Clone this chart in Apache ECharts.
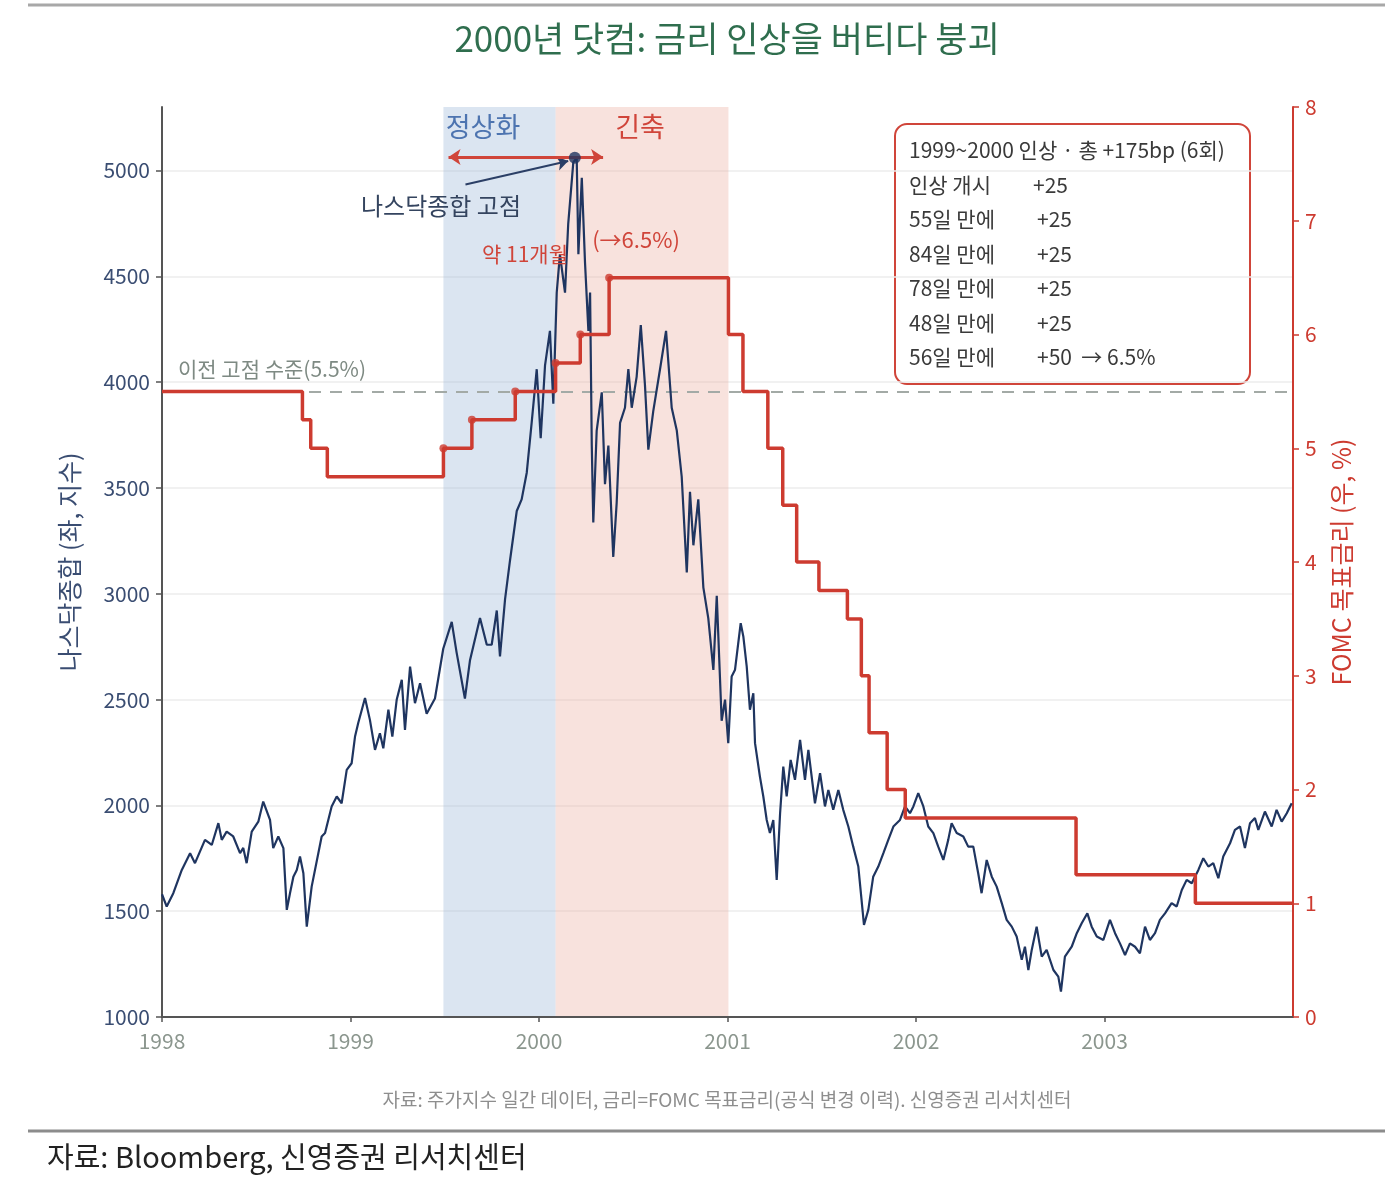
<!DOCTYPE html>
<html>
<head>
<meta charset="utf-8">
<script src="https://cdn.jsdelivr.net/npm/echarts@6.0.0/dist/echarts.min.js"></script>
<style>
  html, body { margin: 0; padding: 0; background: #fff; }
  #chart { width: 1399px; height: 1182px; }
</style>
</head>
<body>
<div id="chart"></div>
<script>
// Nasdaq composite, [decimal year, index level]
const nasdaq1998 = [[1998.000,1580],[1998.025,1522],[1998.060,1585],[1998.105,1695],[1998.149,1774],[1998.175,1727],[1998.228,1837],[1998.264,1813],[1998.299,1916],[1998.317,1837],[1998.343,1876],[1998.378,1853],[1998.414,1774],[1998.431,1799],[1998.449,1727],[1998.476,1876],[1998.511,1923],[1998.537,2018],[1998.573,1931],[1998.590,1798],[1998.617,1853],[1998.644,1798],[1998.662,1506],[1998.679,1585],[1998.697,1663],[1998.715,1695],[1998.732,1758],[1998.750,1679],[1998.768,1427],[1998.794,1616],[1998.847,1853],[1998.865,1869],[1998.900,1995],[1998.927,2042],[1998.953,2010],[1998.980,2168]];
const nasdaq1999 = [[1999.006,2199],[1999.024,2325],[1999.041,2389],[1999.077,2507],[1999.103,2404],[1999.130,2262],[1999.156,2341],[1999.174,2270],[1999.201,2452],[1999.222,2325],[1999.245,2499],[1999.272,2593],[1999.289,2357],[1999.316,2656],[1999.342,2483],[1999.369,2577],[1999.404,2433],[1999.448,2505],[1999.492,2740],[1999.537,2867],[1999.563,2722],[1999.607,2505],[1999.634,2686],[1999.687,2885],[1999.723,2759],[1999.749,2759],[1999.776,2921],[1999.793,2704],[1999.820,2975],[1999.846,3156],[1999.882,3391],[1999.908,3446],[1999.935,3572],[1999.961,3807],[1999.988,4061]];
const nasdaq2000 = [[2000.009,3735],[2000.032,4079],[2000.058,4242],[2000.076,3898],[2000.094,4423],[2000.111,4604],[2000.138,4423],[2000.155,4748],[2000.182,5038],[2000.200,5060],[2000.209,4604],[2000.227,4966],[2000.244,4567],[2000.262,4242],[2000.271,4423],[2000.280,3700],[2000.288,3337],[2000.306,3771],[2000.333,3952],[2000.350,3518],[2000.368,3700],[2000.394,3174],[2000.412,3428],[2000.430,3807],[2000.456,3879],[2000.474,4061],[2000.492,3879],[2000.518,4025],[2000.540,4269],[2000.562,3988],[2000.580,3681],[2000.606,3862],[2000.642,4061],[2000.674,4242],[2000.704,3879],[2000.731,3771],[2000.757,3554],[2000.784,3101],[2000.801,3482],[2000.819,3229],[2000.845,3446],[2000.872,3029],[2000.898,2885],[2000.925,2640],[2000.943,2990],[2000.969,2400],[2000.987,2500]];
const nasdaq2001 = [[2001.004,2294],[2001.022,2609],[2001.040,2641],[2001.057,2767],[2001.070,2861],[2001.084,2798],[2001.102,2656],[2001.119,2452],[2001.137,2530],[2001.146,2294],[2001.172,2136],[2001.190,2042],[2001.208,1931],[2001.225,1869],[2001.243,1931],[2001.261,1648],[2001.279,1963],[2001.296,2183],[2001.314,2042],[2001.335,2215],[2001.358,2121],[2001.385,2310],[2001.411,2121],[2001.429,2262],[2001.464,2010],[2001.491,2152],[2001.517,1995],[2001.535,2073],[2001.561,1979],[2001.588,2073],[2001.614,1979],[2001.641,1900],[2001.667,1805],[2001.694,1711],[2001.724,1435],[2001.747,1506],[2001.773,1663],[2001.800,1711],[2001.827,1774],[2001.853,1837],[2001.880,1900],[2001.915,1931],[2001.942,1995],[2001.968,1963],[2001.986,1995]];
const nasdaq2002 = [[2002.012,2058],[2002.039,1995],[2002.065,1900],[2002.092,1869],[2002.118,1805],[2002.145,1742],[2002.171,1837],[2002.189,1916],[2002.216,1869],[2002.251,1853],[2002.277,1805],[2002.304,1805],[2002.330,1679],[2002.348,1585],[2002.375,1742],[2002.402,1663],[2002.428,1616],[2002.455,1538],[2002.481,1459],[2002.508,1427],[2002.534,1380],[2002.561,1270],[2002.578,1332],[2002.596,1222],[2002.614,1317],[2002.640,1427],[2002.667,1285],[2002.693,1317],[2002.729,1222],[2002.755,1191],[2002.769,1120],[2002.790,1285],[2002.826,1332],[2002.853,1396],[2002.879,1443],[2002.909,1490],[2002.932,1427],[2002.959,1380],[2002.994,1364]];
const nasdaq2003 = [[2003.029,1459],[2003.056,1396],[2003.082,1348],[2003.109,1293],[2003.135,1348],[2003.162,1332],[2003.188,1301],[2003.215,1427],[2003.241,1364],[2003.268,1396],[2003.294,1459],[2003.321,1490],[2003.356,1538],[2003.383,1522],[2003.410,1600],[2003.436,1648],[2003.463,1632],[2003.498,1695],[2003.524,1750],[2003.551,1711],[2003.577,1727],[2003.604,1656],[2003.630,1758],[2003.666,1821],[2003.692,1884],[2003.719,1900],[2003.745,1798],[2003.772,1916],[2003.798,1940],[2003.816,1884],[2003.851,1971],[2003.887,1900],[2003.913,1979],[2003.940,1923],[2003.967,1963],[2003.993,2010]];

// FOMC target rate change dates (decimal year) and new levels
const rateDates  = [1998.000, 1998.745, 1998.789, 1998.877, 1999.493, 1999.644, 1999.874, 2000.088, 2000.219, 2000.372, 2001.005, 2001.082, 2001.214, 2001.293, 2001.367, 2001.485, 2001.636, 2001.710, 2001.751, 2001.847, 2001.943, 2002.849, 2003.482, 2004.000];
const rateValues = [5.5, 5.25, 5.0, 4.75, 5.0, 5.25, 5.5, 5.75, 6.0, 6.5, 6.0, 5.5, 5.0, 4.5, 4.0, 3.75, 3.5, 3.0, 2.5, 2.0, 1.75, 1.25, 1.0, 1.0];

const peakPoint = [2000.190, 5060];
const prevPeakRate = 5.5;
const normalizeSpan = [1999.493, 2000.088];
const tighteningSpan = [2000.088, 2001.005];
const hikeSpanArrow = [1999.52, 2000.34, 7.56];
const peakNote = { from: [1999.61, 4934], to: [2000.155, 5045] };

const yearTicks = [1998, 1999, 2000, 2001, 2002, 2003, 2004];

const boxTitle = '1999~2000 인상 · 총 +175bp (6회)';
const boxRows = [
  ['인상 개시', '+25'],
  ['55일 만에', '+25'],
  ['84일 만에', '+25'],
  ['78일 만에', '+25'],
  ['48일 만에', '+25'],
  ['56일 만에', '+50  → 6.5%']
];

const FONT = '"Noto Sans CJK KR", "Noto Sans", sans-serif';
const NAVY = '#1f3560';
const RED = '#cd3b30';

const nasdaq = [].concat(nasdaq1998, nasdaq1999, nasdaq2000, nasdaq2001, nasdaq2002, nasdaq2003);
const rateLine = rateDates.map((d, i) => [d, rateValues[i]]);
const hikes = rateLine.filter((p, i) => i > 0 && p[1] > rateValues[i - 1] && p[0] > 1999);

// box text rows
const boxFont = '21px ' + FONT;
const boxText = [{
  type: 'text', x: 909, y: 150,
  style: { text: boxTitle, fill: '#3a3a3a', font: boxFont, verticalAlign: 'middle' }
}];
boxRows.forEach((r, i) => {
  const y = 185 + i * 34.5;
  boxText.push({ type: 'text', x: 909, y: y, style: { text: r[0], fill: '#3a3a3a', font: boxFont, verticalAlign: 'middle' } });
  boxText.push({ type: 'text', x: i === 0 ? 1033 : 1037, y: y, style: { text: r[1], fill: '#3a3a3a', font: boxFont, verticalAlign: 'middle' } });
});

const chart = echarts.init(document.getElementById('chart'));
chart.setOption({
  backgroundColor: '#fff',
  animation: false,
  textStyle: { fontFamily: FONT },
  grid: { left: 162, right: 106, top: 107, bottom: 165, outerBoundsMode: 'none' },
  xAxis: {
    type: 'value',
    min: yearTicks[0],
    max: yearTicks[yearTicks.length - 1],
    interval: 1,
    axisLine: { lineStyle: { color: '#555', width: 2 } },
    axisTick: { show: true, length: 5, lineStyle: { color: '#555', width: 1.5 } },
    axisLabel: {
      color: '#8b968e', fontSize: 21, margin: 14, showMaxLabel: false,
      formatter: v => (v === 2004 ? '' : String(v))
    },
    splitLine: { show: false }
  },
  yAxis: [
    {
      type: 'value', position: 'left',
      min: 1000, max: 5300, interval: 500,
      name: '나스닥종합 (좌, 지수)', nameLocation: 'middle', nameRotate: 90, nameGap: 80,
      nameTextStyle: { color: '#3a4d72', fontSize: 25 },
      axisLine: { show: true, lineStyle: { color: '#555', width: 2 } },
      axisTick: { show: true, length: 6, lineStyle: { color: '#555', width: 1.5 } },
      axisLabel: { color: '#3a4d72', fontSize: 21, margin: 12, showMaxLabel: false, formatter: v => String(v) },
      splitLine: {
        show: true,
        lineStyle: { color: ['#ececec', '#ececec', '#ececec', '#ececec', '#ececec', '#ececec', '#ececec', '#ececec', '#ececec', 'rgba(0,0,0,0)'], width: 1.5 }
      }
    },
    {
      type: 'value', position: 'right',
      min: 0, max: 8, interval: 1,
      name: 'FOMC 목표금리 (우, %)', nameLocation: 'middle', nameRotate: 90, nameGap: 36,
      nameTextStyle: { color: RED, fontSize: 25 },
      axisLine: { show: true, lineStyle: { color: RED, width: 2 } },
      axisTick: { show: true, length: 6, lineStyle: { color: RED, width: 1.5 } },
      axisLabel: { color: RED, fontSize: 21, margin: 12 },
      splitLine: { show: false }
    }
  ],
  series: [
    {
      // holds the previous-peak reference line beneath the rate line
      name: '기준선',
      type: 'line',
      yAxisIndex: 1,
      data: [],
      z: 2,
      markLine: {
        silent: true,
        z: 1,
        symbol: 'none',
        label: { show: false },
        lineStyle: { color: '#a3aaa6', width: 2, type: [12, 9] },
        data: [{ yAxis: prevPeakRate }]
      }
    },
    {
      name: '나스닥종합',
      type: 'line',
      yAxisIndex: 0,
      data: nasdaq,
      symbol: 'none',
      z: 3,
      lineStyle: { color: NAVY, width: 2.2 },
      markArea: {
        silent: true,
        z: 0,
        data: [
          [{ xAxis: normalizeSpan[0], itemStyle: { color: 'rgba(155,184,215,0.36)' } }, { xAxis: normalizeSpan[1] }],
          [{ xAxis: tighteningSpan[0], itemStyle: { color: 'rgba(235,169,155,0.34)' } }, { xAxis: tighteningSpan[1] }]
        ]
      },
      markLine: {
        silent: true,
        symbol: ['none', 'arrow'],
        symbolSize: 11,
        label: { show: false },
        lineStyle: { color: '#2b3f66', width: 2, type: 'solid' },
        data: [[{ coord: peakNote.from }, { coord: peakNote.to }]]
      }
    },
    {
      name: 'FOMC 목표금리',
      type: 'line',
      yAxisIndex: 1,
      data: rateLine,
      step: 'end',
      symbol: 'none',
      z: 4,
      lineStyle: { color: RED, width: 3.5 }
    },
    {
      name: '인상',
      type: 'scatter',
      yAxisIndex: 1,
      data: hikes,
      symbolSize: 8,
      z: 5,
      itemStyle: { color: RED },
      markLine: {
        silent: true,
        symbol: ['arrow', 'arrow'],
        symbolSize: 12,
        label: { show: false },
        lineStyle: { color: '#d0453a', width: 3, type: 'solid' },
        data: [[{ coord: [hikeSpanArrow[0], hikeSpanArrow[2]] }, { coord: [hikeSpanArrow[1], hikeSpanArrow[2]] }]]
      }
    },
    {
      name: '고점',
      type: 'scatter',
      yAxisIndex: 0,
      data: [peakPoint],
      symbolSize: 12,
      z: 6,
      itemStyle: { color: NAVY }
    }
  ],
  graphic: [
    { type: 'line', shape: { x1: 28, y1: 5, x2: 1385, y2: 5 }, style: { stroke: '#a8a8a8', lineWidth: 3 } },
    { type: 'line', shape: { x1: 28, y1: 1131, x2: 1385, y2: 1131 }, style: { stroke: '#8c8c8c', lineWidth: 3 } },
    {
      type: 'text', x: 727, y: 39,
      style: { text: '2000년 닷컴: 금리 인상을 버티다 붕괴', fill: '#2f6e4e', font: '35px ' + FONT, align: 'center', verticalAlign: 'middle' }
    },
    { type: 'text', x: 483, y: 127, style: { text: '정상화', fill: '#4d74b0', font: '27px ' + FONT, align: 'center', verticalAlign: 'middle' }, z: 20 },
    { type: 'text', x: 640, y: 127, style: { text: '긴축', fill: '#d0453a', font: '27px ' + FONT, align: 'center', verticalAlign: 'middle' }, z: 20 },
    { type: 'text', x: 441, y: 206, style: { text: '나스닥종합 고점', fill: '#34445f', font: '24px ' + FONT, align: 'center', verticalAlign: 'middle' }, z: 20 },
    { type: 'text', x: 525, y: 254, style: { text: '약 11개월', fill: '#d0453a', font: '21px ' + FONT, align: 'center', verticalAlign: 'middle' }, z: 20 },
    { type: 'text', x: 636, y: 240, style: { text: '(→6.5%)', fill: '#d0453a', font: '22px ' + FONT, align: 'center', verticalAlign: 'middle' }, z: 20 },
    { type: 'text', x: 178, y: 369, style: { text: '이전 고점 수준(5.5%)', fill: '#7e8a83', font: '21px ' + FONT, align: 'left', verticalAlign: 'middle' }, z: 20 },
    {
      type: 'group', z: 50,
      children: [
        { type: 'rect', shape: { x: 895, y: 124, width: 355, height: 260, r: 12 }, style: { fill: '#fff', stroke: '#d0453a', lineWidth: 2 } }
      ].concat(boxText)
    },
    {
      type: 'text', x: 727, y: 1100,
      style: { text: '자료: 주가지수 일간 데이터, 금리=FOMC 목표금리(공식 변경 이력). 신영증권 리서치센터', fill: '#8e8e8e', font: '19px ' + FONT, align: 'center', verticalAlign: 'middle' }
    },
    {
      type: 'text', x: 47, y: 1157,
      style: { text: '자료: Bloomberg, 신영증권 리서치센터', fill: '#222', font: '29px ' + FONT, align: 'left', verticalAlign: 'middle' }
    }
  ]
});
</script>
</body>
</html>
